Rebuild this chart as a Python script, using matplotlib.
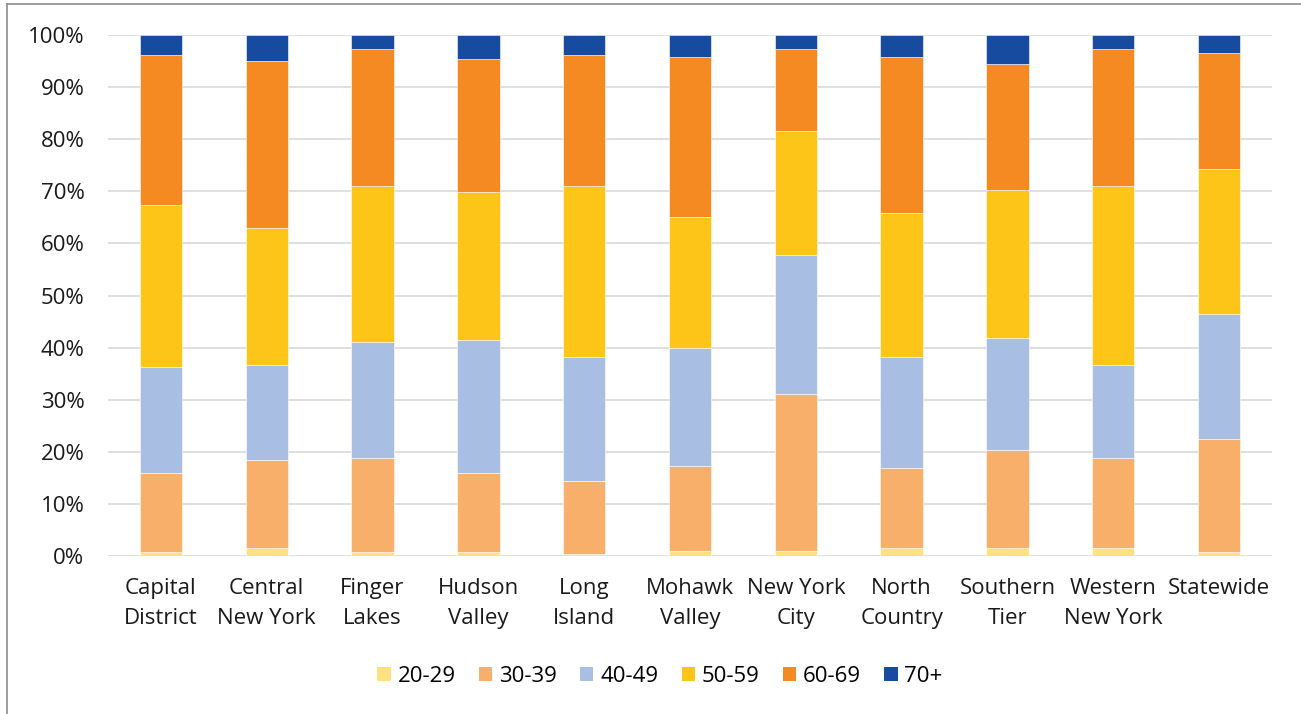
import numpy as np
import matplotlib
matplotlib.use("Agg")
import matplotlib.pyplot as plt
from matplotlib.lines import Line2D
from matplotlib.patches import Patch

# %% Data (share of each age group, %)
regions = ["Capital\nDistrict", "Central\nNew York", "Finger\nLakes", "Hudson\nValley",
           "Long\nIsland", "Mohawk\nValley", "New York\nCity", "North\nCountry",
           "Southern\nTier", "Western\nNew York", "Statewide"]
age_groups = ["20-29", "30-39", "40-49", "50-59", "60-69", "70+"]

age_20_29 = [0.7, 1.5, 0.7, 0.7, 0.3, 1.0, 1.0, 1.5, 1.5, 1.5, 0.7]
age_30_39 = [15.3, 17.0, 18.1, 15.3, 14.1, 16.3, 30.0, 15.3, 18.9, 17.3, 21.7]
age_40_49 = [20.3, 18.1, 22.3, 25.5, 23.8, 22.6, 26.7, 21.4, 21.5, 17.8, 24.0]
age_50_59 = [31.1, 26.4, 29.9, 28.4, 32.8, 25.1, 23.9, 27.7, 28.3, 34.4, 27.9]
age_60_69 = [28.7, 32.0, 26.3, 25.5, 25.1, 30.8, 15.7, 29.9, 24.3, 26.3, 22.3]
age_70_up = [3.9, 5.0, 2.7, 4.6, 3.9, 4.2, 2.7, 4.2, 5.5, 2.7, 3.4]

colors = ["#FDE07F", "#F8AF69", "#A8BFE3", "#FDC517", "#F58A23", "#164B9F"]

# %% Plot
plt.rcParams['font.family'] = ['Open Sans', 'DejaVu Sans']

fig = plt.figure(figsize=(13.01, 7.14), dpi=100)
ax = fig.add_axes([108/1301, 1-556/714, (1272-108)/1301, (556-35)/714])

series = [age_20_29, age_30_39, age_40_49, age_50_59, age_60_69, age_70_up]
x = np.arange(len(regions))
bottom = np.zeros(len(regions))
for vals, col, lab in zip(series, colors, age_groups):
    vals = np.array(vals)
    ax.bar(x, vals, 0.4, bottom=bottom, color=col, label=lab,
           edgecolor="white", linewidth=0.4, zorder=3)
    bottom += vals

ax.set_xlim(-0.5, len(regions) - 0.5)
ax.set_ylim(0, 100)
ax.set_yticks(np.arange(0, 101, 10))
ax.set_yticklabels([f"{v}%" for v in range(0, 101, 10)])
ax.set_xticks(x)
ax.set_xticklabels(regions, linespacing=1.55)
ax.tick_params(axis="both", length=0, labelsize=16, colors="#1a1a1a")
ax.tick_params(axis="y", pad=17)
ax.tick_params(axis="x", pad=16)
ax.grid(axis="y", color="#d9d9d9", linewidth=1.2, zorder=0)
for s in ax.spines.values():
    s.set_visible(False)

handles = [Patch(facecolor=c, label=l) for c, l in zip(colors, age_groups)]
fig.legend(handles=handles, loc="center", bbox_to_anchor=(660/1301, 1-676/714),
           ncol=6, frameon=False, fontsize=16, handlelength=0.6, handleheight=0.6,
           handletextpad=0.3, columnspacing=1.05)

# chart border (left and top edge visible)
fig.add_artist(Line2D([7/1301, 7/1301], [0, 1-4/714], color="#8c8c8c", linewidth=1.2))
fig.add_artist(Line2D([7/1301, 1], [1-4/714, 1-4/714], color="#8c8c8c", linewidth=1.2))

fig.savefig("out.png", dpi=100)
